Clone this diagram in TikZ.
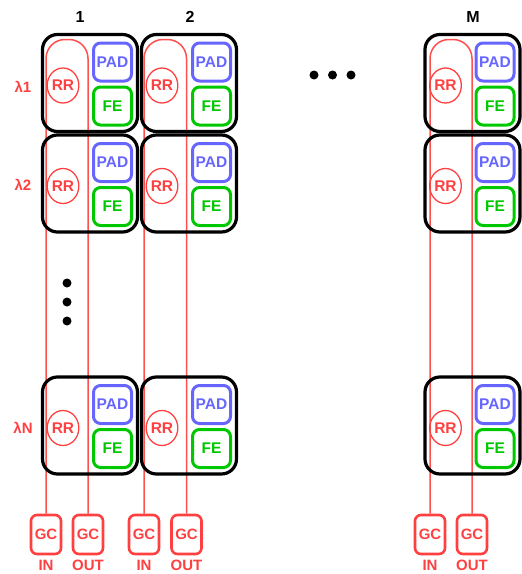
\documentclass[tikz,border=0pt]{standalone}
\usepackage{fontspec}
\setmainfont{Liberation Sans}
\usetikzlibrary{shapes.geometric}
\definecolor{rrc}{RGB}{255,64,64}
\definecolor{rline}{RGB}{255,80,80}
\definecolor{padc}{RGB}{102,102,255}
\definecolor{fec}{RGB}{0,200,0}
\tikzset{
 cellbox/.style={draw=black, line width=3.2pt, rounded corners=15pt, minimum width=95pt, minimum height=97pt, inner sep=0pt},
 padbox/.style={draw=padc, text=padc, line width=3pt, rounded corners=7pt, minimum width=38pt, minimum height=38pt, inner sep=0pt, font=\fontsize{15.5}{17}\selectfont\bfseries},
 febox/.style={padbox, draw=fec, text=fec},
 rrnode/.style={ellipse, draw=rrc, text=rrc, line width=1.3pt, minimum width=28pt, minimum height=35pt, inner sep=0pt, font=\fontsize{15.5}{17}\selectfont\bfseries},
 gcbox/.style={draw=rrc, text=rrc, line width=2.6pt, rounded corners=6pt, minimum width=30pt, minimum height=39pt, inner sep=0pt, font=\fontsize{15}{17}\selectfont\bfseries},
 lab/.style={text=rrc, inner sep=0pt, font=\fontsize{15}{17}\selectfont\bfseries},
 head/.style={text=black, inner sep=0pt, font=\fontsize{16}{18}\selectfont\bfseries},
 wire/.style={draw=rline, line width=1.5pt, rounded corners=19pt},
 bigdot/.style={circle, fill=black, minimum size=9pt, inner sep=0pt}
}
\begin{document}
\begin{tikzpicture}[x=1pt,y=-1pt]
\useasboundingbox (0,0) rectangle (522,574);
% GC boxes and wires
\foreach \c/\cx/\ix/\ox/\hx in {1/90/46/88/80, 2/189/144/186.5/190, M/472.5/430/472/473} {
  \node[gcbox] (gi\c) at (\ix,534.5) {GC};
  \node[gcbox] (go\c) at (\ox,534.5) {GC};
  \node[lab] (li\c) at (\ix,565) {IN};
  \node[lab] (lo\c) at (\ox,565) {OUT};
  \coordinate (ti\c) at (\ix,39.5);
  \coordinate (to\c) at (\ox,39.5);
  \draw[wire] (gi\c.north) -- (ti\c) -- (to\c) -- (go\c.north);
  \node[head] (h\c) at (\hx,17) {\c};
}
% cells
\foreach \c/\cx in {1/90, 2/189, M/472.5} {
  \foreach \r/\ry in {1/83, 2/183.5, N/425.5} {
    \node[cellbox] (cell\c\r) at (\cx,\ry) {};
    \node[padbox] (pad\c\r) at (\cx+22.5,\ry-21) {PAD};
    \node[febox] (fe\c\r) at (\cx+22.5,\ry+23) {FE};
    \node[rrnode] (rr\c\r) at (\cx-27,\ry+2.5) {RR};
  }
}
% row labels
\node[lab] (lam1) at (23,87) {λ1};
\node[lab] (lam2) at (23,185) {λ2};
\node[lab] (lamN) at (23,428) {λN};
% dots
\node[bigdot] (hd1) at (314,75) {};
\node[bigdot] (hd2) at (332.5,75) {};
\node[bigdot] (hd3) at (351,75) {};
\node[bigdot] (vd1) at (67,283) {};
\node[bigdot] (vd2) at (67,302) {};
\node[bigdot] (vd3) at (67,321) {};
\end{tikzpicture}
\end{document}
